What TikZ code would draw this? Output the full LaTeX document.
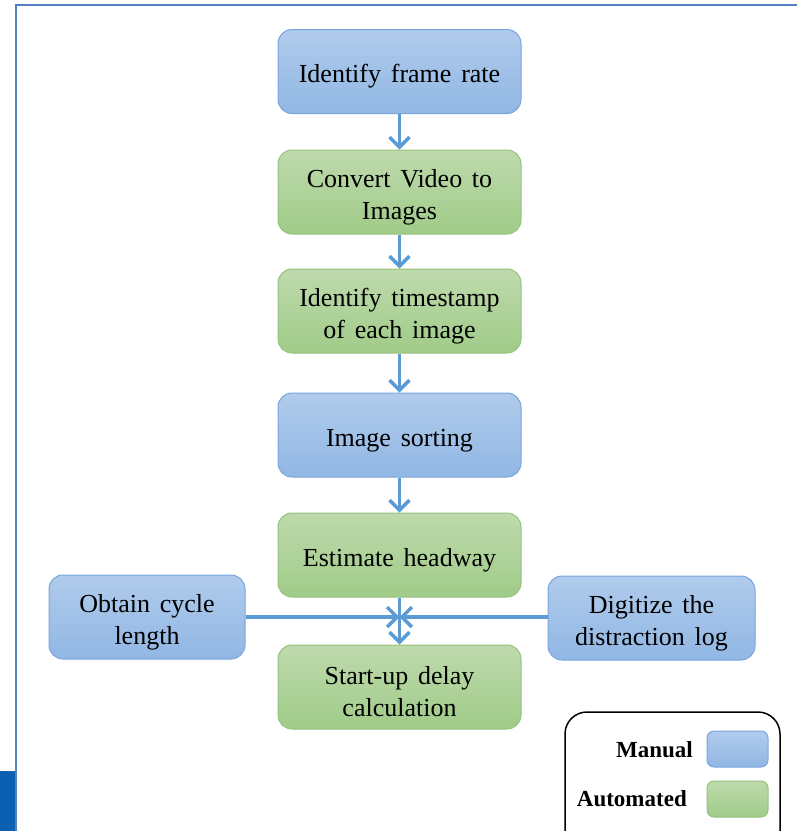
\documentclass[tikz,border=0pt]{standalone}
\usepackage{fontspec}
\setmainfont{Liberation Serif}[WordSpace=1.5]
\usepackage{tikz}
\usetikzlibrary{arrows.meta}
\usetikzlibrary{shapes.geometric}
\definecolor{mantop}{RGB}{176,203,236}
\definecolor{manbot}{RGB}{145,183,228}
\definecolor{manline}{RGB}{122,165,220}
\definecolor{autotop}{RGB}{190,218,172}
\definecolor{autobot}{RGB}{160,203,137}
\definecolor{autoline}{RGB}{150,194,124}
\definecolor{flowblue}{RGB}{91,155,213}
\definecolor{framblue}{RGB}{80,130,195}
\definecolor{tabblue}{RGB}{12,96,178}
\newcommand{\toplift}{\rule{0pt}{28pt}}
\tikzset{manual/.style={rectangle,rounded corners=14pt,draw=manline,line width=1pt,top color=mantop,bottom color=manbot,minimum width=243pt,minimum height=84pt,align=center,inner sep=0pt,font=\fontsize{26}{32}\selectfont}}
\tikzset{auto/.style={rectangle,rounded corners=14pt,draw=autoline,line width=1pt,top color=autotop,bottom color=autobot,minimum width=243pt,minimum height=84pt,align=center,inner sep=0pt,font=\fontsize{26}{32}\selectfont}}
\tikzset{flow/.style={draw=flowblue,line width=3.5pt,-{Straight Barb[length=10pt,width=20pt,line width=3.5pt]}}}
\tikzset{swatch/.style={rectangle,rounded corners=7pt,line width=1pt,minimum width=61pt,minimum height=36pt,inner sep=0pt}}
\tikzset{legtext/.style={font=\fontsize{23}{26}\selectfont\bfseries,inner sep=0pt}}
\begin{document}
\begin{tikzpicture}[x=1pt,y=-1pt]
  \useasboundingbox (0,0) rectangle (797,831);
  % outer frame of the screenshot
  \begin{scope}
    \clip (0,0) rectangle (797,831);
    \draw[framblue,line width=2pt] (16,5) rectangle (840,870);
    \fill[tabblue] (0,771) rectangle (15,831);
  \end{scope}

  % main chain
  \node[manual] (rate) at (399.5,71.5) {\toplift Identify frame rate};
  \node[auto] (video) at (399.5,192) {\toplift Convert Video to\\Images};
  \node[auto] (stamp) at (399.5,311) {\toplift Identify timestamp\\of each image};
  \node[manual] (sort) at (399.5,435) {\toplift Image sorting};
  \node[auto] (head) at (399.5,555) {\toplift Estimate headway};
  \node[auto] (delay) at (399.5,687) {\toplift Start-up delay\\calculation};

  % side inputs
  \node[manual,minimum width=196pt] (cycle) at (147,617) {\toplift Obtain cycle\\length};
  \node[manual,minimum width=207pt] (log) at (651.5,618) {\toplift Digitize the\\distraction log};
  \coordinate (join) at (399.5,617);

  \draw[flow] (rate) -- (video);
  \draw[flow] (video) -- (stamp);
  \draw[flow] (stamp) -- (sort);
  \draw[flow] (sort) -- (head);
  \draw[flow] (head) -- (delay);
  \draw[flow] (cycle.east |- join) -- (join);
  \draw[flow] (log.west |- join) -- (join);

  % legend
  \begin{scope}
    \clip (0,0) rectangle (797,831);
    \draw[black,line width=1.5pt,rounded corners=22pt] (565,712) rectangle (780,860);
  \end{scope}
  \node[swatch,draw=manline,top color=mantop,bottom color=manbot] (mankey) at (737.5,749) {};
  \node[swatch,draw=autoline,top color=autotop,bottom color=autobot] (autokey) at (737.5,799) {};
  \node[legtext,anchor=east] (mantext) at (693,750) {Manual};
  \node[legtext,anchor=east] (autotext) at (687,799) {Automated};
\end{tikzpicture}
\end{document}
